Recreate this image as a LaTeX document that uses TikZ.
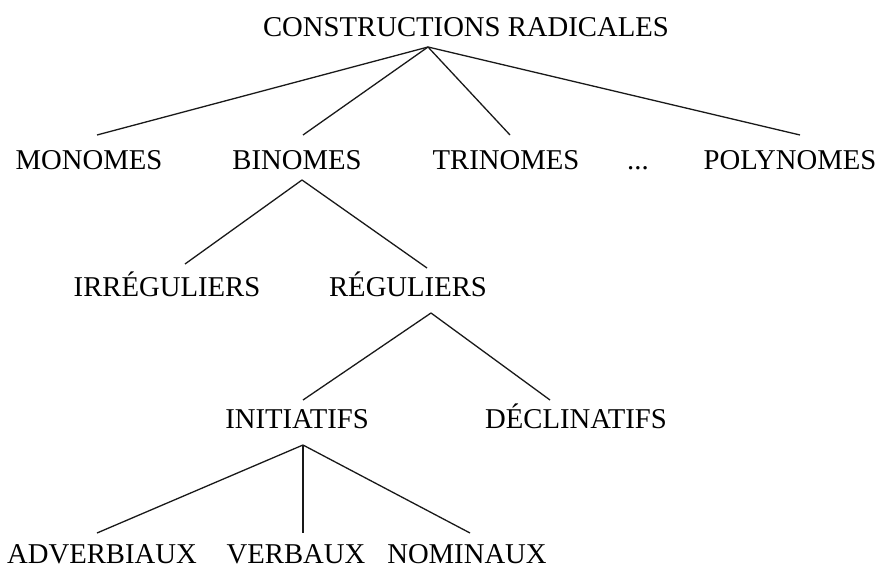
\documentclass[tikz,border=0pt]{standalone}
\usepackage{fontspec}
\setmainfont{Liberation Serif}
\usepackage{tikz}
\usetikzlibrary{positioning}

\tikzset{
	mot/.style={anchor=base, inner sep=0pt, font=\fontsize{28.7}{32}\selectfont},
	branche/.style={line width=1.3pt, black!90},
}

\begin{document}
\begin{tikzpicture}[x=1pt, y=-1pt]
		\useasboundingbox (0,0) rectangle (880,569);
		\node[mot] (q0) at (466,37) {CONSTRUCTIONS RADICALES};
		\node[mot] (q1) at (89,170) {MONOMES};
		\node[mot] (q2) at (297,170) {BINOMES};
		\node[mot] (q3) at (506,170) {TRINOMES};
		\node[mot] (q4) at (638,170) {...};
		\node[mot] (q5) at (790,170) {POLYNOMES};
		\node[mot] (q6) at (167,296) {IRRÉGULIERS};
		\node[mot] (q7) at (408,296) {RÉGULIERS};
		\node[mot] (q8) at (297,428) {INITIATIFS};
		\node[mot] (q9) at (576,428) {DÉCLINATIFS};
		\node[mot] (q10) at (102,563) {ADVERBIAUX};
		\node[mot] (q11) at (296,563) {VERBAUX};
		\node[mot] (q12) at (467,563) {NOMINAUX};
		
		\coordinate (s0) at ([xshift=-38pt, yshift=-10pt]q0.base);
		\coordinate (s2) at ([xshift=5pt, yshift=-10pt]q2.base);
		\coordinate (s7) at ([xshift=23pt, yshift=-17pt]q7.base);
		\coordinate (s8) at ([xshift=6pt, yshift=-17pt]q8.base);
		
		\draw[branche] (s0) -- ([xshift=8pt, yshift=35pt]q1.base);
		\draw[branche] (s0) -- ([xshift=6pt, yshift=35pt]q2.base);
		\draw[branche] (s0) -- ([xshift=4pt, yshift=35pt]q3.base);
		\draw[branche] (s0) -- ([xshift=10pt, yshift=35pt]q5.base);
		\draw[branche] (s2) -- ([xshift=18pt, yshift=32pt]q6.base);
		\draw[branche] (s2) -- ([xshift=19pt, yshift=28pt]q7.base);
		\draw[branche] (s7) -- ([xshift=6pt, yshift=28pt]q8.base);
		\draw[branche] (s7) -- ([xshift=-26pt, yshift=28pt]q9.base);
		\draw[branche] (s8) -- ([xshift=-5pt, yshift=30pt]q10.base);
		\draw[branche] (s8) -- ([xshift=7pt, yshift=30pt]q11.base);
		\draw[branche] (s8) -- ([xshift=3pt, yshift=30pt]q12.base);
	\end{tikzpicture}
\end{document}
